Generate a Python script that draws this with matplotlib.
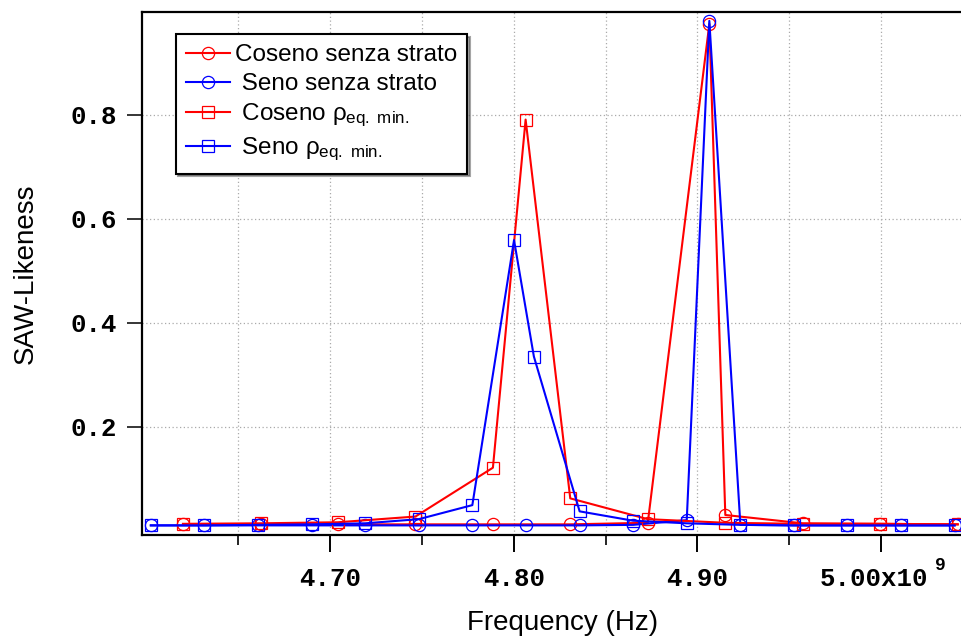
import matplotlib
matplotlib.use("Agg")
import matplotlib.pyplot as plt
from matplotlib.ticker import FixedLocator
from matplotlib.transforms import ScaledTranslation

# --- data -------------------------------------------------------------
# frequencies in GHz (axis is labelled in units of 1e9 Hz)
freq_cos_free = [4.6200, 4.6622, 4.7043, 4.7465, 4.7887, 4.8308, 4.8730,
                 4.9065, 4.9152, 4.9573, 4.9995, 5.0417]
saw_cos_free = [0.012, 0.012, 0.012, 0.012, 0.012, 0.012, 0.015,
                0.975, 0.030, 0.014, 0.013, 0.012]

freq_sin_free = [4.6025, 4.6317, 4.6609, 4.6900, 4.7192, 4.7484, 4.7775,
                 4.8067, 4.8359, 4.8650, 4.8942, 4.9065, 4.9234, 4.9525,
                 4.9817, 5.0108, 5.0400]
saw_sin_free = [0.010, 0.010, 0.010, 0.010, 0.010, 0.010, 0.010,
                0.010, 0.010, 0.011, 0.020, 0.981, 0.011, 0.010,
                0.010, 0.010, 0.010]

freq_cos_rho = [4.6200, 4.6622, 4.7043, 4.7465, 4.7887, 4.8065, 4.8308,
                4.8730, 4.9152, 4.9573, 4.9995, 5.0417]
saw_cos_rho = [0.013, 0.014, 0.016, 0.027, 0.121, 0.791, 0.062,
               0.022, 0.015, 0.013, 0.013, 0.012]

freq_sin_rho = [4.6025, 4.6317, 4.6609, 4.6900, 4.7192, 4.7484, 4.7775,
                4.8002, 4.8110, 4.8359, 4.8650, 4.8942, 4.9234, 4.9525,
                4.9817, 5.0108, 5.0400]
saw_sin_rho = [0.010, 0.010, 0.011, 0.012, 0.014, 0.022, 0.049,
               0.559, 0.335, 0.037, 0.019, 0.014, 0.011, 0.010,
               0.010, 0.010, 0.010]

series_labels = ["Coseno senza strato",
                 " Seno senza strato",
                 r" Coseno $\rho_{\mathrm{eq.\ min.}}$",
                 r" Seno $\rho_{\mathrm{eq.\ min.}}$"]

x_major = [4.70, 4.80, 4.90, 5.00]
x_major_labels = ["4.70", "4.80", "4.90", "5.00x10"]
x_minor = [4.65, 4.75, 4.85, 4.95]
y_major = [0.2, 0.4, 0.6, 0.8]
y_major_labels = ["0.2", "0.4", "0.6", "0.8"]

# --- styling ----------------------------------------------------------
plt.rcParams["mathtext.fontset"] = "custom"
plt.rcParams["mathtext.rm"] = "Liberation Sans"
plt.rcParams["mathtext.it"] = "Liberation Sans"
plt.rcParams["mathtext.bf"] = "Liberation Sans:bold"

W, H = 962, 639
fig = plt.figure(figsize=(W / 100, H / 100), dpi=100)
ax = fig.add_axes([142 / W, 104 / H, (984 - 142) / W, (535 - 12) / H])

RED = "#ff0000"
BLUE = "#0000ff"
common = dict(linewidth=1.5, markersize=8.8, markerfacecolor="none",
              markeredgewidth=0.9)

ax.plot(freq_cos_free, saw_cos_free, color=RED, marker="o",
        label=series_labels[0], **common)
ax.plot(freq_sin_free, saw_sin_free, color=BLUE, marker="o",
        label=series_labels[1], **common)
ax.plot(freq_cos_rho, saw_cos_rho, color=RED, marker="s",
        label=series_labels[2], **common)
ax.plot(freq_sin_rho, saw_sin_rho, color=BLUE, marker="s",
        label=series_labels[3], **common)

ax.set_xlim(4.5977, 5.0560)
ax.set_ylim(-0.0085, 0.998)

# axes frame
for side in ("top", "left", "bottom"):
    ax.spines[side].set_linewidth(1.6)
    ax.spines[side].set_color("black")
ax.spines["right"].set_visible(False)

# ticks
ax.xaxis.set_major_locator(FixedLocator(x_major))
ax.xaxis.set_minor_locator(FixedLocator(x_minor))
ax.yaxis.set_major_locator(FixedLocator(y_major))
ax.set_xticklabels(x_major_labels)
ax.set_yticklabels(y_major_labels)

tick_font = dict(family="Liberation Mono", weight="bold", size=18.5)
ax.tick_params(axis="x", which="major", direction="out", length=12,
               width=1.4, pad=11, top=False)
ax.tick_params(axis="x", which="minor", direction="out", length=7,
               width=1.2, top=False)
ax.tick_params(axis="y", which="major", direction="out", length=10.8,
               width=1.1, pad=7, right=False)
ax.tick_params(axis="y", which="minor", left=False)
for lab in ax.get_xticklabels() + ax.get_yticklabels():
    lab.set_fontproperties(matplotlib.font_manager.FontProperties(**tick_font))

# shift the exponent label so the whole "5.00x10^9" sits centred on its tick
last_label = ax.xaxis.get_major_ticks()[3].label1
last_label.set_transform(last_label.get_transform()
                         + ScaledTranslation(-7.5 / 100, 0, fig.dpi_scale_trans))
ax.annotate("9", xy=(5.00, 0), xycoords=("data", "axes fraction"),
            xytext=(42.5, -15.5), textcoords="offset points",
            ha="center", va="top", family="Liberation Mono",
            weight="bold", size=13)

# grid
grid_kw = dict(color="#aaaaaa", linestyle=(0, (1, 2)), linewidth=0.9)
ax.grid(True, which="both", axis="x", **grid_kw)
ax.grid(True, which="major", axis="y", **grid_kw)
ax.set_axisbelow(True)

# axis titles
ax.set_xlabel("Frequency (Hz)", family="Liberation Sans", size=20)
ax.set_ylabel("SAW-Likeness", family="Liberation Sans", size=20)
ax.xaxis.set_label_coords(0.5, -0.1434)
ax.yaxis.set_label_coords(-0.1223, 0.5)

# legend
leg = ax.legend(loc="upper left", bbox_to_anchor=(175.7 / W, 1 - 34 / H),
                bbox_transform=fig.transFigure, borderaxespad=0,
                prop=dict(family="Liberation Sans", size=17.5),
                frameon=True, fancybox=False, shadow=True, framealpha=1,
                edgecolor="black", handlelength=1.8, handletextpad=0.2,
                borderpad=0.42, labelspacing=0.28)
leg.get_frame().set_linewidth(1.5)

fig.savefig("out.png", dpi=100)
